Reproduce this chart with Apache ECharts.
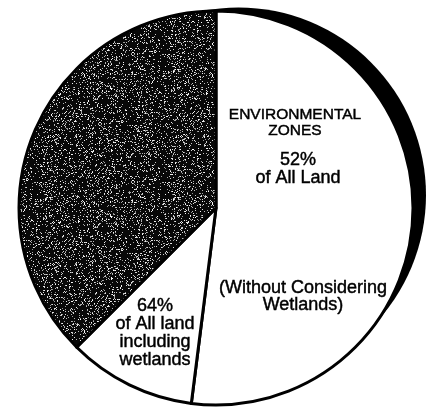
<!DOCTYPE html>
<html lang="en">
  <head>
    <meta charset="UTF-8" />
    <title>Environmental Zones</title>
    <script src="https://cdn.jsdelivr.net/npm/echarts@6/dist/echarts.min.js"></script>
    <style>
      html, body { margin: 0; padding: 0; background: #fff; }
      #main { width: 442px; height: 409px; }
    </style>
  </head>
  <body>
    <div id="main"></div>
    <script>
      // slices, clockwise from 12 o'clock
      const categories = ["Environmental zones", "Wetlands", "Other land"]
      const values = [52, 10.5, 37.5]

      // text blocks
      const zoneTitle = "ENVIRONMENTAL\nZONES"
      const zoneShare = "52%\nof All Land"
      const zoneNote = "(Without Considering\nWetlands)"
      const wetShare = "64%\nof All land\nincluding\nwetlands"

      // speckled fill for the dark slice (fixed LCG so it is the same every time)
      function speckle() {
        const c = document.createElement("canvas")
        c.width = 128
        c.height = 128
        const g = c.getContext("2d")
        g.fillStyle = "#080808"
        g.fillRect(0, 0, 128, 128)
        let s = 987654
        const rnd = () => ((s = (s * 1103515245 + 12345) % 2147483648) / 2147483648)
        for (let y = 0; y < 128; y++) {
          for (let x = 0; x < 128; x++) {
            if (rnd() < 0.15) {
              const v = 140 + Math.floor(rnd() * 115)
              g.fillStyle = "rgb(" + v + "," + v + "," + v + ")"
              g.fillRect(x, y, 1, 1)
            }
          }
        }
        return c
      }

      const fills = ["#ffffff", "#ffffff", { image: speckle(), repeat: "repeat" }]
      const font = "Liberation Sans, Arial, sans-serif"
      const ink = { fill: "#000", stroke: "#000", lineWidth: 0.45, align: "center", verticalAlign: "middle" }

      const chart = echarts.init(document.getElementById("main"))
      chart.setOption({
        animation: false,
        series: [
          {
            // black shadow behind the pie
            type: "pie",
            name: "shadow",
            silent: true,
            center: [238.5, 195],
            radius: 187.5,
            label: { show: false },
            labelLine: { show: false },
            itemStyle: { color: "#000" },
            data: [{ name: "shadow", value: 1 }],
          },
          {
            type: "pie",
            name: "land",
            silent: true,
            center: [216, 208],
            radius: 197,
            startAngle: 90,
            clockwise: true,
            label: { show: false },
            labelLine: { show: false },
            itemStyle: { borderColor: "#000", borderWidth: 3 },
            data: categories.map((n, i) => ({
              name: n,
              value: values[i],
              itemStyle: { color: fills[i] },
            })),
          },
        ],
        graphic: [
          {
            type: "text", x: 295, y: 123, z: 10,
            style: Object.assign({ text: zoneTitle, font: "15.5px " + font, lineHeight: 16 }, ink),
          },
          {
            type: "text", x: 298, y: 169, z: 10,
            style: Object.assign({ text: zoneShare, font: "18px " + font, lineHeight: 18 }, ink),
          },
          {
            type: "text", x: 303, y: 297, z: 10,
            style: Object.assign({ text: zoneNote, font: "18px " + font, lineHeight: 17 }, ink),
          },
          {
            type: "text", x: 155, y: 333, z: 10,
            style: Object.assign({ text: wetShare, font: "18px " + font, lineHeight: 17.7 }, ink),
          },
        ],
      })
    </script>
  </body>
</html>
